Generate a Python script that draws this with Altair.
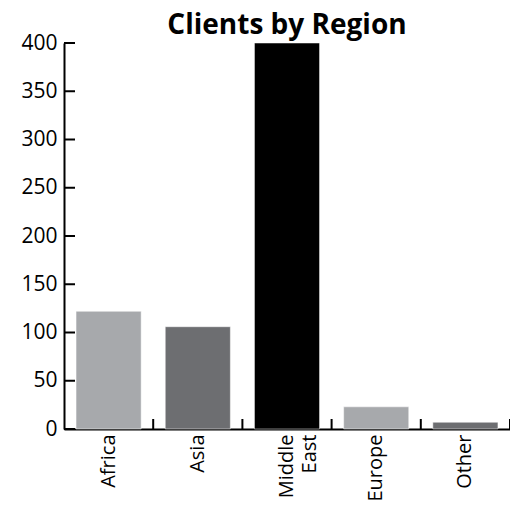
import altair as alt
import pandas as pd

regions = ["Africa", "Asia", "Middle East", "Europe", "Other"]
clients = [122, 106, 400, 23, 7]
bar_colors = ["#a7a9ac", "#6d6e71", "#000000", "#a7a9ac", "#6d6e71"]
y_ticks = [0, 50, 100, 150, 200, 250, 300, 350, 400]

W, H = 446, 386
FONT = "Open Sans"
PAD_INNER = 0.27
STEP = W / len(regions)

bars_df = pd.DataFrame({"region": regions, "clients": clients, "color": bar_colors})
ytick_df = pd.DataFrame({"clients": y_ticks})

x_scale = alt.Scale(domain=regions, paddingInner=PAD_INNER, paddingOuter=PAD_INNER / 2)
y_scale = alt.Scale(domain=[0, 400], nice=False)

bars = alt.Chart(bars_df).mark_bar(stroke="#ffffff", strokeWidth=0.5).encode(
    x=alt.X(
        "region:N",
        sort=regions,
        scale=x_scale,
        axis=alt.Axis(
            title=None,
            labelAngle=270,
            ticks=False,
            labelPadding=5,
            domainWidth=2,
            domainColor="#000000",
            labelFontSize=20,
            labelLineHeight=23,
            labelExpr="datum.label == 'Middle East' ? ['Middle', 'East'] : datum.label",
        ),
    ),
    y=alt.Y(
        "clients:Q",
        scale=y_scale,
        axis=alt.Axis(
            title=None,
            values=y_ticks,
            ticks=False,
            grid=False,
            labelPadding=7,
            domainWidth=2,
            domainColor="#000000",
            labelFontSize=21,
        ),
    ),
    color=alt.Color("color:N", scale=None),
)

# category separator ticks (pointing up from the x axis, at the right edge of each band)
x_ticks = alt.Chart(bars_df).mark_rule(
    color="#000000", strokeWidth=2, xOffset=STEP * PAD_INNER / 2
).encode(
    x=alt.X("region:N", sort=regions, scale=x_scale, bandPosition=1),
    y=alt.value(H),
    y2=alt.value(H - 10),
)

# y ticks pointing right, into the plot
y_tick_marks = alt.Chart(ytick_df).mark_rule(color="#000000", strokeWidth=2).encode(
    y=alt.Y("clients:Q", scale=y_scale),
    x=alt.value(0),
    x2=alt.value(11),
)

chart = (
    alt.layer(bars, x_ticks, y_tick_marks)
    .properties(
        width=W,
        height=H,
        title=alt.TitleParams(
            "Clients by Region",
            font=FONT,
            fontSize=28,
            fontWeight="bold",
            color="#000000",
            anchor="middle",
            offset=-8,
        ),
        autosize=alt.AutoSizeParams(type="none"),
        padding={"left": 56, "top": 35, "right": 0, "bottom": 75},
    )
    .configure_view(stroke=None)
    .configure_axis(
        labelFont=FONT,
        labelColor="#000000",
    )
)

chart.save("out.html", embed_options={"renderer": "svg", "actions": False})
